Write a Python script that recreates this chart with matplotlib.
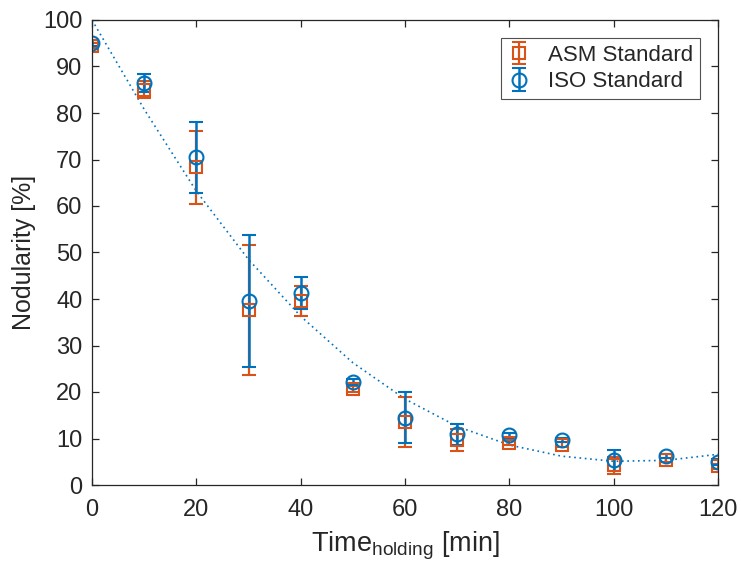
import matplotlib

matplotlib.use("Agg")
import matplotlib.pyplot as plt
import numpy as np

# holding time [min]
time_min = [0, 10, 20, 30, 40, 50, 60, 70, 80, 90, 100, 110, 120]

# nodularity [%] and error half-widths
asm_mean = [94.5, 85.0, 68.3, 37.7, 39.6, 20.6, 13.5, 9.7, 9.1, 8.7, 4.2, 5.3, 4.0]
asm_err = [0.6, 1.8, 7.8, 14.0, 3.2, 0.6, 5.4, 2.3, 0.5, 0.5, 1.8, 0.4, 0.6]
iso_mean = [95.0, 86.5, 70.5, 39.6, 41.3, 22.1, 14.5, 10.9, 10.7, 9.7, 5.3, 6.2, 4.9]
iso_err = [0.6, 1.9, 7.6, 14.2, 3.4, 0.7, 5.4, 2.2, 0.5, 0.5, 2.2, 0.4, 0.6]

# trend line
trend_t = [0, 10, 20, 30, 40, 50, 60, 70, 80, 90, 100, 110, 120]
trend_y = [100, 80.8, 63.2, 48.5, 36.3, 26.3, 18.5, 12.6, 8.6, 6.2, 5.1, 5.3, 6.6]

BLUE = "#0072BD"
ORANGE = "#D95319"
INK = "#262626"

plt.rcParams["font.family"] = ["Liberation Sans", "DejaVu Sans"]

fig = plt.figure(figsize=(7.41, 5.63), dpi=100)
ax = fig.add_axes([92 / 741, 1 - 485 / 563, (718 - 92) / 741, (485 - 20) / 563])

ax.plot(trend_t, trend_y, linestyle=(0, (1, 2.2)), color=BLUE, linewidth=1.2)

ax.errorbar(time_min, asm_mean, yerr=asm_err, fmt="s", color=ORANGE, mfc="none",
            ms=8, mew=1.5, elinewidth=1.6, capsize=5, capthick=1.5,
            label="ASM Standard")
ax.errorbar(time_min, iso_mean, yerr=iso_err, fmt="o", color=BLUE, mfc="none",
            ms=10, mew=1.5, elinewidth=1.8, capsize=5, capthick=1.5,
            label="ISO Standard")

ax.set_xlim(0, 120)
ax.set_ylim(0, 100)
ax.set_xticks(np.arange(0, 121, 20))
ax.set_yticks(np.arange(0, 101, 10))
ax.tick_params(direction="in", length=5, width=0.9, top=True, right=True,
               labelsize=17, colors=INK)
ax.tick_params(axis="x", pad=10)
ax.tick_params(axis="y", pad=7)
for s in ax.spines.values():
    s.set_color(INK)
    s.set_linewidth(0.9)

ax.set_xlabel("Time$_\\mathregular{holding}$ [min]", fontsize=19.5, color=INK, labelpad=6)
ax.set_ylabel("Nodularity [%]", fontsize=18, color=INK, labelpad=5)

leg = ax.legend(loc="upper right", fontsize=16, frameon=True, fancybox=False,
                borderpad=0.3, handlelength=1.0, handletextpad=0.8,
                labelspacing=0.25, borderaxespad=0,
                bbox_to_anchor=(0.971, 0.961))
leg.get_frame().set_edgecolor(INK)
leg.get_frame().set_linewidth(0.8)
for t in leg.get_texts():
    t.set_color(INK)

fig.savefig("out.png", dpi=100)
